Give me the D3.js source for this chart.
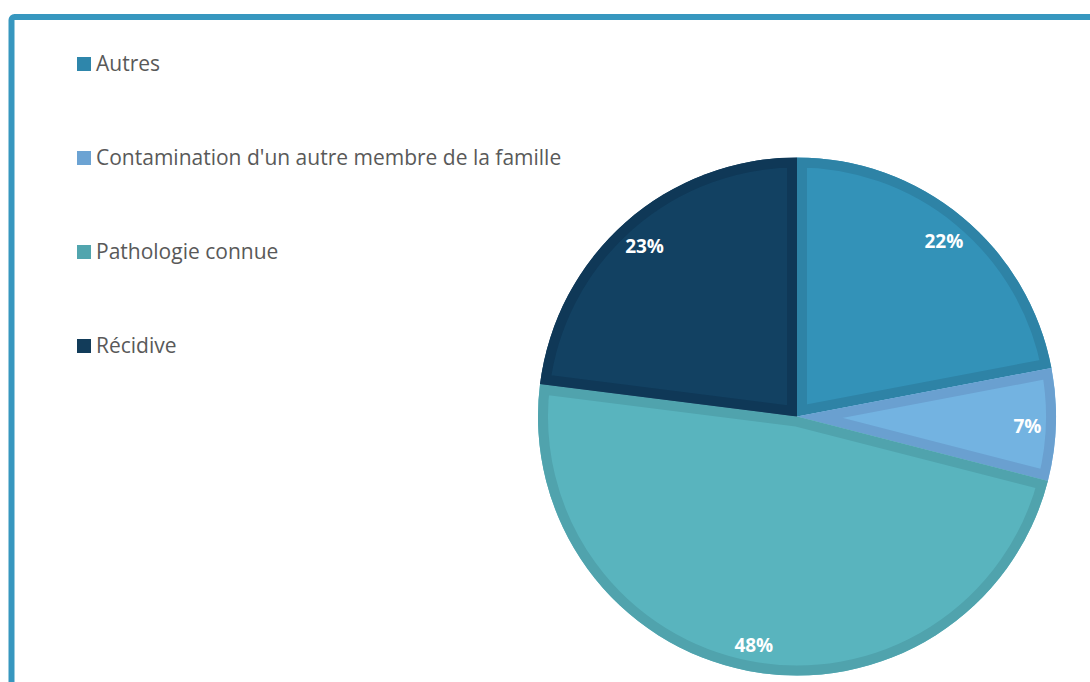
<!DOCTYPE html>
<html>
<head>
<meta charset="utf-8">
<script src="https://cdn.jsdelivr.net/npm/d3@7"></script>
<style>
  body { margin: 0; background: #fff; }
  svg { display: block; font-family: "Open Sans", sans-serif; }
</style>
</head>
<body>
<div id="chart"></div>
<script>
// data
var categories = ["Autres", "Contamination d'un autre membre de la famille", "Pathologie connue", "Récidive"];
var values = [22, 7, 48, 23];
var fills = ["#3392b8", "#73b3e1", "#59b4be", "#124162"];
var borders = ["#2e83a6", "#6aa0d0", "#50a3ad", "#0f3857"];
var legendColors = ["#2e86ab", "#6ca3d3", "#51a5ae", "#123c5a"];

var width = 1090, height = 682;
var cx = 797, cy = 416.5, radius = 259;

var svg = d3.select("#chart").append("svg")
    .attr("width", width)
    .attr("height", height);

// frame, cut off at right and bottom
svg.append("rect")
    .attr("x", 11.5).attr("y", 17)
    .attr("width", 1200).attr("height", 800)
    .attr("rx", 3)
    .attr("fill", "none")
    .attr("stroke", "#3797bf")
    .attr("stroke-width", 6);

// legend
var legend = svg.append("g");
var rows = legend.selectAll("g")
    .data(categories)
    .enter().append("g")
    .attr("transform", function(d, i) { return "translate(77," + (64 + i * 94) + ")"; });
rows.append("rect")
    .attr("x", 0).attr("y", -7)
    .attr("width", 14).attr("height", 14)
    .attr("fill", function(d, i) { return legendColors[i]; });
rows.append("text")
    .attr("x", 19).attr("y", 0)
    .attr("dy", "0.35em")
    .attr("fill", "#595959")
    .style("font-size", "21px")
    .text(function(d) { return d; });

// pie
var pie = d3.pie().sort(null).value(function(d) { return d; });
var arcs = pie(values);
var arc = d3.arc().innerRadius(0).outerRadius(radius);
var labelArc = d3.arc().innerRadius(radius * 0.89).outerRadius(radius * 0.89);

var g = svg.append("g").attr("transform", "translate(" + cx + "," + cy + ")");

var defs = svg.append("defs");
defs.selectAll("clipPath")
    .data(arcs)
    .enter().append("clipPath")
    .attr("id", function(d, i) { return "clip" + i; })
    .append("path")
    .attr("d", arc);

var slices = g.selectAll("g.slice")
    .data(arcs)
    .enter().append("g")
    .attr("class", "slice");

slices.append("path")
    .attr("d", arc)
    .attr("fill", function(d, i) { return fills[i]; });

// inner border band, clipped to each slice
slices.append("path")
    .attr("d", arc)
    .attr("fill", "none")
    .attr("stroke", function(d, i) { return borders[i]; })
    .attr("stroke-width", 20)
    .attr("stroke-linejoin", "miter")
    .attr("clip-path", function(d, i) { return "url(#clip" + i + ")"; });

g.selectAll("text.lbl")
    .data(arcs)
    .enter().append("text")
    .attr("class", "lbl")
    .attr("transform", function(d) { return "translate(" + labelArc.centroid(d) + ")"; })
    .attr("text-anchor", "middle")
    .attr("dy", "0.5em")
    .attr("fill", "#fff")
    .style("font-size", "19px")
    .style("font-weight", "bold")
    .text(function(d) { return d.value + "%"; });
</script>
</body>
</html>
